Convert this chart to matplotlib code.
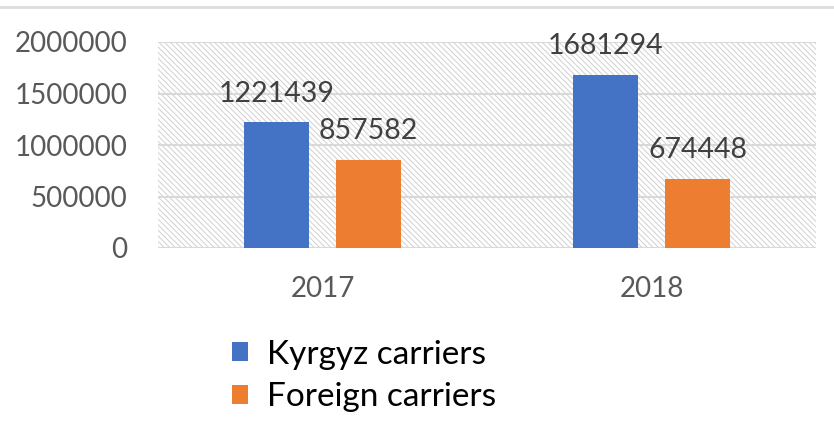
import numpy as np
import matplotlib.pyplot as plt
from matplotlib.patches import Rectangle

years = ['2017', '2018']
kyrgyz = [1221439, 1681294]
foreign = [857582, 674448]
series_names = ['Kyrgyz carriers', 'Foreign carriers']
colors = ['#4472c4', '#ed7d31']

plt.rcParams['font.family'] = ['Lato', 'DejaVu Sans']
plt.rcParams['hatch.linewidth'] = 0.7
plt.rcParams['hatch.color'] = '#d0d0d0'

fig = plt.figure(figsize=(8.34, 4.42), dpi=100)
ax = fig.add_axes([158/834, 1 - 248/442, (816-158)/834, (248-42)/442])

# hatched plot background
bg = Rectangle((0, 0), 1, 1, transform=ax.transAxes, facecolor='white',
               edgecolor='#d0d0d0', hatch='\\' * 6, linewidth=0, zorder=0)
ax.add_patch(bg)

x = np.arange(len(years))
w = 0.195
b1 = ax.bar(x - 0.14, kyrgyz, w, color=colors[0], label=series_names[0], zorder=3)
b2 = ax.bar(x + 0.14, foreign, w, color=colors[1], label=series_names[1], zorder=3)

for bars in (b1, b2):
    for r in bars:
        ax.text(r.get_x() + r.get_width()/2, r.get_height() + 150000,
                str(int(r.get_height())), ha='center', va='bottom',
                fontsize=20.5, color='#404040', zorder=4)

ax.set_xlim(-0.5, 1.5)
ax.set_ylim(0, 2000000)
ax.set_yticks([0, 500000, 1000000, 1500000, 2000000])
ax.set_yticklabels(['0', '500000', '1000000', '1500000', '2000000'])
ax.set_xticks(x)
ax.set_xticklabels(years)
ax.tick_params(length=0, labelsize=20, labelcolor='#595959')
ax.tick_params(axis='x', pad=20)
ax.tick_params(axis='y', pad=22)
ax.yaxis.grid(True, color='#d9d9d9', linewidth=1.5, zorder=1)
ax.set_axisbelow(True)
for s in ax.spines.values():
    s.set_visible(False)

leg = fig.legend(handles=[b1, b2], loc='upper left', bbox_to_anchor=(215/834, 1 - 323/442),
                 frameon=False, fontsize=24, handlelength=0.5, handleheight=0.5,
                 handletextpad=0.55, labelspacing=0.38, borderpad=0)

# thin border line at the very top
fig.add_artist(plt.Line2D([0, 1], [1 - 7/442, 1 - 7/442], color='#dcdcdc', linewidth=2))

fig.savefig('out.png', dpi=100)
